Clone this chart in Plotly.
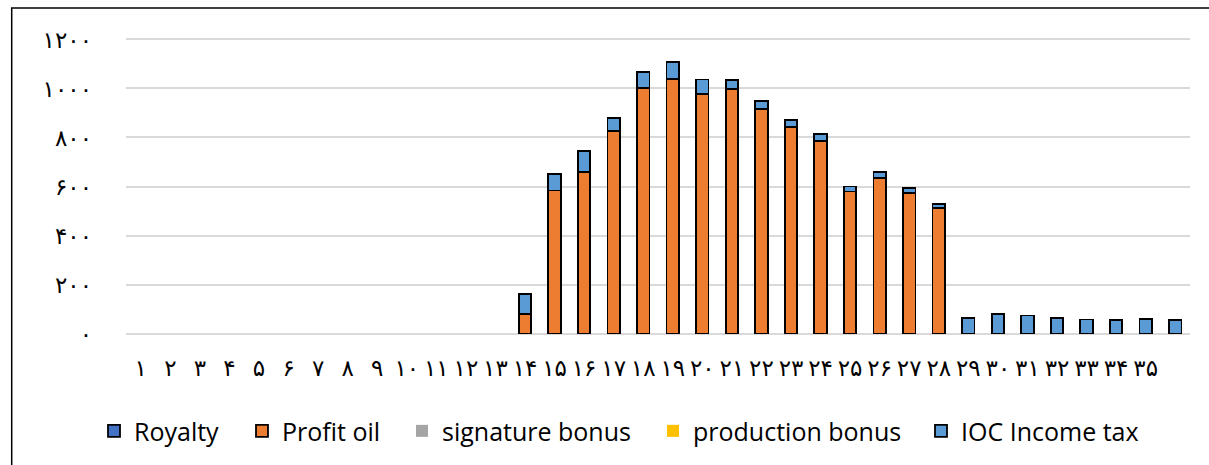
import plotly.graph_objects as go

# Contract years 1..36
years = list(range(1, 37))
year_labels = ["۱", "۲", "۳", "۴", "۵", "۶", "۷", "۸", "۹", "۱۰", "۱۱", "۱۲",
               "۱۳", "۱۴", "۱۵", "۱۶", "۱۷", "۱۸", "۱۹", "۲۰", "۲۱", "۲۲", "۲۳", "۲۴",
               "۲۵", "۲۶", "۲۷", "۲۸", "۲۹", "۳۰", "۳۱", "۳۲", "۳۳", "۳۴", "۳۵"]

royalty = [0] * 36
profit_oil = [0, 0, 0, 0, 0, 0, 0, 0, 0, 0, 0, 0, 0,
              79, 584, 660, 826, 1001, 1040, 977, 999, 915, 842, 785, 580, 634, 572, 512,
              0, 0, 0, 0, 0, 0, 0, 0]
signature_bonus = [0] * 36
production_bonus = [0] * 36
ioc_income_tax = [0, 0, 0, 0, 0, 0, 0, 0, 0, 0, 0, 0, 0,
                  82, 68, 84, 53, 65, 67, 60, 35, 33, 30, 29, 20, 25, 22, 16,
                  63, 80, 74, 63, 57, 55, 58, 55]

y_ticks = [0, 200, 400, 600, 800, 1000, 1200]
y_tick_labels = ["۰", "۲۰۰", "۴۰۰", "۶۰۰", "۸۰۰", "۱۰۰۰", "۱۲۰۰"]

series_names = ["Royalty", "Profit oil", "signature bonus", "production bonus", "IOC Income tax"]
series_values = [royalty, profit_oil, signature_bonus, production_bonus, ioc_income_tax]

# styling per series: fill colour, outline width, legend text slot width (px)
series_style = {
    "Royalty": ("#4472C4", 1.8, 103),
    "Profit oil": ("#ED7D31", 1.8, 115),
    "signature bonus": ("#A5A5A5", 0, 206),
    "production bonus": ("#FFC000", 0, 223),
    "IOC Income tax": ("#5B9BD5", 1.8, 180),
}

fig = go.Figure()
for name, vals in zip(series_names, series_values):
    color, lw, lg_w = series_style[name]
    fig.add_trace(go.Bar(
        x=years,
        y=[v if v else None for v in vals],  # empty years carry no bar segment
        name=name,
        marker=dict(color=color, line=dict(color="black", width=lw)),
        legendwidth=lg_w,
    ))

W, H = 1209, 465
L, R, T, B = 126, 19, 37.5, 130.2
pw, ph = W - L - R, H - T - B

def px_x(px):
    return (px - L) / pw

def px_y(py):
    return (H - B - py) / ph

fig.update_layout(
    width=W, height=H,
    margin=dict(l=L, r=R, t=T, b=B, pad=0, autoexpand=False),
    barmode="stack",
    bargap=0.58,
    plot_bgcolor="white",
    paper_bgcolor="white",
    showlegend=True,
    legend=dict(
        orientation="h",
        x=px_x(94), xanchor="left",
        y=px_y(431), yanchor="middle",
        font=dict(family="Open Sans", size=25, color="black"),
        itemwidth=30,
        traceorder="normal",
    ),
    xaxis=dict(
        range=[0.5, 36.5],
        tickmode="array",
        tickvals=years[:len(year_labels)],
        ticktext=year_labels,
        tickangle=0,
        showgrid=False,
        zeroline=False,
        showline=False,
        ticks="",
        ticklabelstandoff=17,
        tickfont=dict(family="DejaVu Sans", size=23, color="black"),
    ),
    yaxis=dict(
        range=[-6, 1206],
        tickmode="array",
        tickvals=y_ticks,
        ticktext=y_tick_labels,
        showgrid=True,
        gridcolor="#D9D9D9",
        gridwidth=1.5,
        zeroline=False,
        showline=False,
        ticks="",
        ticklabelstandoff=33,
        tickfont=dict(family="DejaVu Sans", size=23, color="black"),
    ),
    shapes=[dict(
        type="rect", xref="paper", yref="paper",
        x0=px_x(11.7), x1=px_x(1216),
        y0=px_y(476), y1=px_y(7.5),
        line=dict(color="black", width=1.5),
        fillcolor="rgba(0,0,0,0)",
        layer="below",
    )],
)

fig.write_html("out.html")
